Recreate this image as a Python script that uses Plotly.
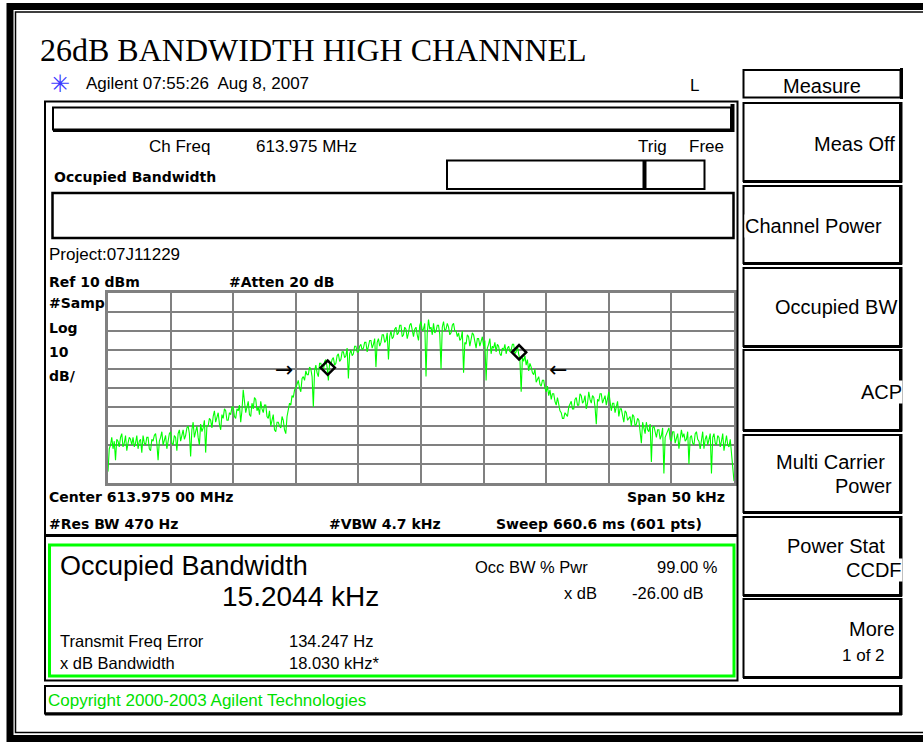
import numpy as np
import plotly.graph_objects as go

W, H = 923, 742

# ---------------- data ----------------
center_label = "Center 613.975 00 MHz"
span_khz = 50
ref_dbm = 10
db_per_div = 10

trace_dbm = [
    -84, -72, -70, -66, -72, -68, -78, -67, -68, -71, -66, -64, -71, -69, -65, -73, -69, -66, -67, -70,
    -66, -71, -69, -65, -72, -68, -67, -74, -65, -69, -70, -66, -66, -72, -73, -67, -68, -65, -64, -69,
    -78, -68, -66, -63, -70, -67, -65, -72, -67, -64, -63, -69, -70, -65, -66, -73, -64, -62, -68, -65,
    -62, -67, -65, -61, -60, -64, -76, -62, -58, -66, -63, -60, -66, -70, -59, -63, -61, -57, -74, -60,
    -60, -56, -57, -61, -55, -52, -58, -55, -53, -59, -62, -54, -56, -51, -52, -57, -57, -53, -54, -50,
    -50, -55, -56, -51, -52, -49, -58, -52, -41, -47, -53, -50, -47, -54, -55, -48, -51, -45, -46, -52,
    -50, -54, -47, -51, -53, -49, -49, -55, -56, -52, -60, -57, -54, -62, -63, -58, -58, -60, -61, -55,
    -57, -62, -64, -55, -52, -48, -49, -44, -45, -41, -40, -38, -36, -40, -42, -35, -34, -36, -31, -33,
    -33, -29, -30, -34, -50, -31, -28, -32, -34, -27, -27, -30, -31, -26, -25, -29, -36, -27, -28, -25,
    -24, -28, -27, -23, -22, -26, -25, -21, -21, -24, -23, -19, -35, -22, -20, -23, -22, -18, -18, -21,
    -21, -18, -17, -20, -19, -16, -16, -21, -18, -15, -15, -19, -17, -14, -29, -16, -14, -18, -16, -12,
    -12, -16, -15, -11, -25, -13, -10, -14, -13, -9, -8, -12, -11, -7, -7, -13, -12, -8, -9, -14,
    -11, -7, -6, -10, -13, -9, -8, -12, -15, -7, -5, -10, -9, -6, -34, -11, -4, -9, -8, -12,
    -6, -11, -10, -7, -7, -12, -30, -8, -5, -10, -9, -6, -8, -12, -11, -7, -6, -10, -10, -13,
    -11, -15, -14, -10, -32, -16, -17, -12, -13, -18, -15, -11, -12, -16, -19, -14, -14, -18, -16, -13,
    -18, -15, -36, -19, -17, -14, -22, -18, -19, -16, -21, -17, -18, -22, -23, -19, -20, -17, -22, -19,
    -18, -21, -20, -17, -17, -22, -21, -18, -22, -25, -42, -24, -26, -23, -28, -25, -31, -27, -29, -32,
    -33, -30, -37, -35, -34, -38, -39, -36, -36, -40, -42, -39, -44, -41, -46, -43, -43, -47, -49, -45,
    -48, -52, -53, -56, -56, -53, -54, -55, -50, -48, -47, -51, -51, -46, -45, -49, -49, -43, -44, -48,
    -47, -44, -51, -48, -42, -46, -48, -44, -45, -50, -59, -46, -47, -43, -43, -48, -46, -44, -49, -45,
    -42, -47, -52, -48, -48, -53, -50, -47, -55, -51, -51, -56, -58, -52, -53, -57, -56, -55, -60, -54,
    -55, -60, -59, -56, -57, -62, -69, -58, -61, -64, -58, -62, -63, -59, -79, -61, -60, -64, -66, -62,
    -62, -67, -65, -61, -85, -66, -64, -62, -61, -67, -68, -63, -63, -69, -66, -64, -72, -65, -62, -66,
    -64, -68, -67, -63, -80, -66, -65, -69, -70, -64, -63, -67, -68, -72, -66, -63, -72, -67, -65, -70,
    -67, -64, -85, -66, -64, -69, -70, -65, -66, -71, -68, -64, -73, -69, -65, -70, -71, -67, -76, -80,
    -89,
]
# sweep points evenly spread over the span (kHz offset from centre)
freq_khz = np.linspace(-span_khz / 2, span_khz / 2, len(trace_dbm))

marker_freq = [-7.45, 7.83]
marker_dbm = [-29.3, -21.2]
arrow_freq = [-10.1, 10.1]
arrow_dbm = -30.5

# ---------------- helpers ----------------
def X(x):
    return x / W

def Y(y):
    return 1 - y / H

shapes = []
annotations = []

def rect(x0, y0, x1, y1, color="black", width=2):
    shapes.append(dict(type="rect", xref="paper", yref="paper",
                       x0=X(x0), x1=X(x1), y0=Y(y0), y1=Y(y1),
                       line=dict(color=color, width=width), layer="above"))

def line(x0, y0, x1, y1, color="black", width=2):
    shapes.append(dict(type="line", xref="paper", yref="paper",
                       x0=X(x0), x1=X(x1), y0=Y(y0), y1=Y(y1),
                       line=dict(color=color, width=width), layer="above"))

SANS = "Liberation Sans, Arial, sans-serif"
BOLD = "DejaVu Sans, Verdana, sans-serif"

def text(s, x, y, size=17, anchor="left", family=SANS, color="black",
         bold=False, bg=None):
    if bold:
        s = "<b>" + s + "</b>"
    a = dict(text=s, xref="paper", yref="paper", x=X(x), y=Y(y),
             xanchor=anchor, yanchor="middle", showarrow=False,
             font=dict(family=family, size=size, color=color),
             borderpad=0, align=anchor if anchor != "center" else "center")
    if bg:
        a["bgcolor"] = bg
    annotations.append(a)

# ---------------- outer frame ----------------
rect(10, 6.5, 940, 738.5, width=7)
rect(15.5, 12, 945, 732.5, width=1.5)

# title
text("26dB BANDWIDTH HIGH CHANNNEL", 39, 50, size=32,
     family="Liberation Serif, Times New Roman, serif")

# header line
text("\u2733", 60, 84, size=24, anchor="center", color="#3a3aff")
text("Agilent 07:55:26  Aug 8, 2007", 85, 84, size=17)
text("L", 689, 85, size=17)

# screen frame
rect(45, 101.5, 737.5, 680.5, width=2)
# top status bar
rect(53, 107.5, 731, 129.5, width=2)
line(53, 130.5, 734, 130.5, width=3)
line(732.5, 104, 732.5, 132, width=4)
text("Ch Freq", 148, 146, size=17)
text("613.975 MHz", 255, 146, size=17)
text("Trig", 637, 146, size=17)
text("Free", 688, 146, size=17)
text("Occupied Bandwidth", 53, 177, size=14, family=BOLD, bold=True)
rect(447, 160.5, 704.5, 189, width=2)
line(644.5, 160, 644.5, 189, width=4)
rect(52.5, 193, 733.5, 238, width=2.5)

text("Project:07J11229", 48, 255, size=17)
text("Ref 10 dBm", 48, 282, size=14, family=BOLD, bold=True)
text("#Atten 20 dB", 228, 282, size=14, family=BOLD, bold=True)
for s, yy in [("#Samp", 303), ("Log", 328), ("10", 352), ("dB/", 376)]:
    text(s, 48, yy, size=14, family=BOLD, bold=True)

text(center_label, 48, 497, size=14, family=BOLD, bold=True)
text("Span 50 kHz", 726, 497, size=14, family=BOLD, bold=True, anchor="right")
text("#Res BW 470 Hz", 48, 524, size=14, family=BOLD, bold=True)
text("#VBW 4.7 kHz", 328, 524, size=14, family=BOLD, bold=True)
text("Sweep 660.6 ms (601 pts)", 495, 524, size=14, family=BOLD, bold=True)

# result panel
line(45, 535.5, 737, 535.5, width=3)
rect(49.5, 545, 734, 676, color="#00ff00", width=3)
text("Occupied Bandwidth", 59, 566, size=27)
text("15.2044 kHz", 221, 596, size=28)
text("Transmit Freq Error", 59, 641, size=16.5)
text("134.247 Hz", 288, 641, size=16.5)
text("x dB Bandwidth", 59, 663, size=16.5)
text("18.030 kHz*", 288, 663, size=16.5)
text("Occ BW % Pwr", 474, 567, size=16.5)
text("99.00 %", 719, 567, size=16.5, anchor="right")
text("x dB", 598, 593, size=16.5, anchor="right")
text("-26.00 dB", 705, 593, size=16.5, anchor="right")

# copyright bar
rect(45, 686, 900, 713.5, width=2)
line(901, 685, 901, 715, width=3)
line(45, 714, 902, 714, width=3)
text("Copyright 2000-2003 Agilent Technologies", 47, 700, size=17, color="#00e000")

# soft keys
rect(743.5, 70, 900.5, 97.5, width=2)
line(901.5, 68, 901.5, 99, width=3)
text("Measure", 822, 86, size=20, anchor="center")

key_boxes = [(103, 181), (186, 263), (268, 346), (350, 430),
             (435, 512), (517, 595), (599, 677)]
for (y0, y1) in key_boxes:
    rect(743.5, y0, 900, y1, width=2)
    line(901, y0 - 1, 901, y1 + 1.5, width=3)
    line(743, y1 + 0.5, 902, y1 + 0.5, width=3)

text("Meas Off", 896, 144, size=20, anchor="right")
text("Channel Power", 744, 226, size=20, bg="white")
text("Occupied BW", 898, 307, size=20, anchor="right", bg="white")
text("ACP", 903, 392, size=20, anchor="right", bg="white")
text("Multi Carrier", 886, 462, size=20, anchor="right")
text("Power", 893, 486, size=20, anchor="right")
text("Power Stat", 886, 546, size=20, anchor="right")
text("CCDF", 903, 570, size=20, anchor="right", bg="white")
text("More", 896, 629, size=20, anchor="right")
text("1 of 2", 886, 655, size=17, anchor="right")

# ---------------- spectrum plot ----------------
fig = go.Figure()
fig.add_trace(go.Scatter(x=freq_khz, y=trace_dbm, mode="lines",
                         line=dict(color="#00ff00", width=1.1),
                         hoverinfo="skip", showlegend=False))
fig.add_trace(go.Scatter(x=marker_freq, y=marker_dbm, mode="markers",
                         marker=dict(symbol="diamond-open", size=11,
                                     color="black", line=dict(width=2.5, color="black")),
                         hoverinfo="skip", showlegend=False))

annotations.append(dict(x=arrow_freq[0], y=arrow_dbm, xref="x", yref="y",
                        text="\u2192", showarrow=False, xanchor="right",
                        yanchor="middle", font=dict(size=22, color="black",
                                                    family="DejaVu Sans")))
annotations.append(dict(x=arrow_freq[1], y=arrow_dbm, xref="x", yref="y",
                        text="\u2190", showarrow=False, xanchor="left",
                        yanchor="middle", font=dict(size=22, color="black",
                                                    family="DejaVu Sans")))

axis_common = dict(showgrid=True, gridcolor="#808080", gridwidth=1.5,
                   showline=True, linecolor="#808080", linewidth=2.5, mirror=True,
                   zeroline=False, showticklabels=False, ticks="", fixedrange=True)

fig.update_layout(
    width=W, height=H,
    margin=dict(l=0, r=0, t=0, b=0),
    paper_bgcolor="white", plot_bgcolor="white",
    xaxis=dict(domain=[108 / W, 734 / W], range=[-span_khz / 2, span_khz / 2],
               dtick=span_khz / 10, tick0=-span_khz / 2, **axis_common),
    yaxis=dict(domain=[1 - 483 / H, 1 - 293 / H],
               range=[ref_dbm - 10 * db_per_div, ref_dbm],
               dtick=db_per_div, tick0=ref_dbm, **axis_common),
    shapes=shapes,
    annotations=annotations,
    showlegend=False,
)

fig.write_html("out.html", config={"displayModeBar": False},
               post_script="document.body.style.margin='0';document.body.style.overflow='hidden';")
